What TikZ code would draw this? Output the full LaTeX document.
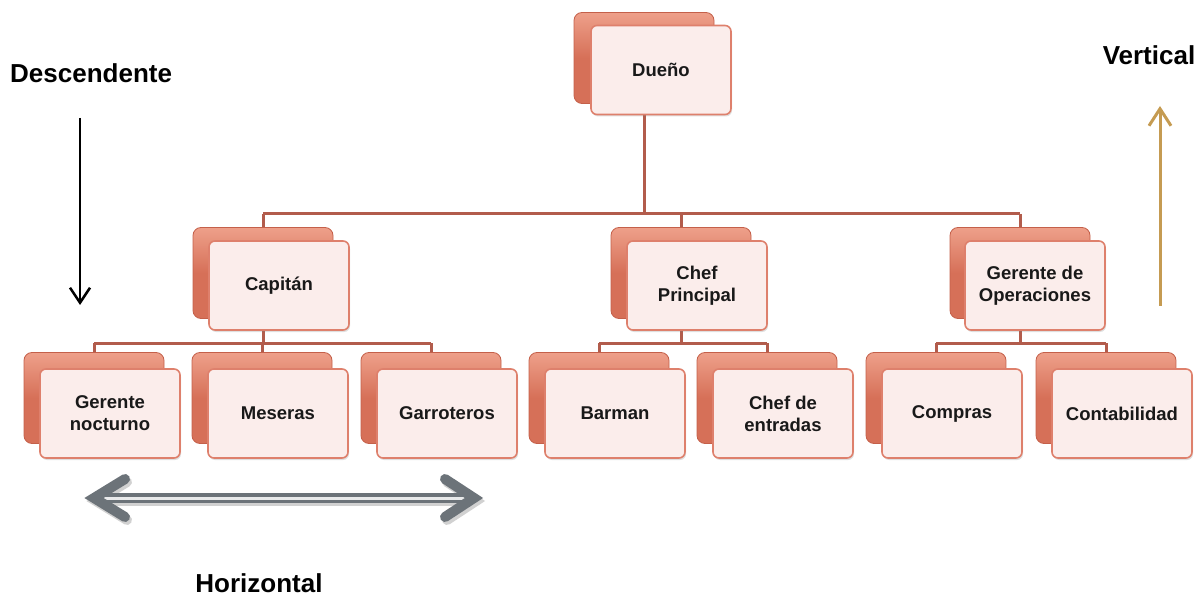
\documentclass[tikz,border=0pt]{standalone}
\usepackage{fontspec}
\setmainfont{Liberation Sans}
\usetikzlibrary{arrows.meta,shadows}
\pgfdeclarelayer{background}
\pgfsetlayers{background,main}
\definecolor{backfill}{RGB}{214,112,88}
\definecolor{backtop}{RGB}{238,160,138}
\definecolor{backdraw}{RGB}{196,96,74}
\definecolor{frontfill}{RGB}{251,237,235}
\definecolor{frontdraw}{RGB}{222,128,108}
\definecolor{conncol}{RGB}{178,92,76}
\definecolor{goldcol}{RGB}{197,155,82}
\definecolor{graycol}{RGB}{108,115,121}
\tikzset{
  backbox/.style={rectangle, rounded corners=8pt, minimum width=140pt, minimum height=91pt,
    top color=backtop, bottom color=backfill, middle color=backfill, draw=backdraw, line width=0.8pt},
  frontbox/.style={rectangle, rounded corners=6pt, minimum width=140pt, minimum height=89pt,
    fill=frontfill, draw=frontdraw, line width=1.6pt, align=center,
    font=\fontsize{18.5}{22}\selectfont\bfseries, text=black!90,
    drop shadow={shadow xshift=1pt, shadow yshift=-2pt, opacity=0.25}},
  conn/.style={draw=conncol, line width=3pt},
  lbl/.style={font=\fontsize{26}{30}\selectfont\bfseries, inner sep=0pt}
}
\begin{document}
\begin{tikzpicture}[x=1pt,y=-1pt]
\useasboundingbox (0,0) rectangle (1203,596);
% boxes: back then front
\node[backbox] (duenoB) at (644,58) {};
\node[frontbox] (dueno) at (661,70) {Due\~no};
\node[backbox] (capB) at (263,273) {};
\node[frontbox] (cap) at (279,285.5) {Capit\'an};
\node[backbox] (chefB) at (681,273) {};
\node[frontbox] (chef) at (697,285.5) {Chef\\Principal};
\node[backbox] (gopB) at (1020,273) {};
\node[frontbox] (gop) at (1035,285.5) {Gerente de\\Operaciones};
\node[backbox] (gnB) at (94,398) {};
\node[frontbox] (gn) at (110,413.5) {Gerente\\nocturno};
\node[backbox] (mesB) at (262,398) {};
\node[frontbox] (mes) at (278,413.5) {Meseras};
\node[backbox] (garB) at (431,398) {};
\node[frontbox] (gar) at (447,413.5) {Garroteros};
\node[backbox] (barB) at (599,398) {};
\node[frontbox] (bar) at (615,413.5) {Barman};
\node[backbox] (ceB) at (767,398) {};
\node[frontbox] (ce) at (783,413.5) {Chef de\\entradas};
\node[backbox] (comB) at (936,398) {};
\node[frontbox] (com) at (952,413.5) {Compras};
\node[backbox] (conB) at (1106,398) {};
\node[frontbox] (con) at (1122,413.5) {Contabilidad};
% bar levels
\coordinate (lvlA) at (0,214);
\coordinate (lvlB) at (0,343);
\begin{pgfonlayer}{background}
\draw[conn] (duenoB.center) -- (duenoB.center |- lvlA);
\draw[conn] (capB.center |- lvlA) -- (gopB.center |- lvlA);
\draw[conn] (capB.center |- lvlA) -- (capB.center);
\draw[conn] (chefB.center |- lvlA) -- (chefB.center);
\draw[conn] (gopB.center |- lvlA) -- (gopB.center);
\draw[conn] (capB.center) -- (capB.center |- lvlB);
\draw[conn] (gnB.center |- lvlB) -- (garB.center |- lvlB);
\draw[conn] (gnB.center |- lvlB) -- (gnB.center);
\draw[conn] (mesB.center |- lvlB) -- (mesB.center);
\draw[conn] (garB.center |- lvlB) -- (garB.center);
\draw[conn] (chefB.center) -- (chefB.center |- lvlB);
\draw[conn] (barB.center |- lvlB) -- (ceB.center |- lvlB);
\draw[conn] (barB.center |- lvlB) -- (barB.center);
\draw[conn] (ceB.center |- lvlB) -- (ceB.center);
\draw[conn] (gopB.center) -- (gopB.center |- lvlB);
\draw[conn] (comB.center |- lvlB) -- (conB.center |- lvlB);
\draw[conn] (comB.center |- lvlB) -- (comB.center);
\draw[conn] (conB.center |- lvlB) -- (conB.center);
\end{pgfonlayer}
% labels
\node[lbl, anchor=west] (desc) at (10,73) {Descendente};
\node[lbl] (vert) at (1149,55) {Vertical};
\node[lbl] (horiz) at (259,583) {Horizontal};
% descending arrow
\coordinate (dA) at (80,118);
\coordinate (dB) at (80,305);
\draw[line width=2.5pt, -{Straight Barb[length=15pt,width=20pt,line width=2.5pt]}] (dA) -- (dB);
% vertical arrow
\coordinate (vA) at (1160,306);
\coordinate (vB) at (1160,106);
\draw[goldcol, line width=3pt, -{Straight Barb[length=17pt,width=22pt,line width=3pt]}] (vA) -- (vB);
% horizontal double arrow
\coordinate (hL) at (94,498);
\coordinate (hR) at (474,498);
\begin{scope}[transform canvas={xshift=2pt,yshift=-3pt}]
\draw[black!18, line width=10pt] ([xshift=2pt]hL) -- ([xshift=-2pt]hR);
\draw[black!18, line width=10pt, line cap=round, line join=miter] (125,479) -- (hL) -- (125,517);
\draw[black!18, line width=10pt, line cap=round, line join=miter] (445,479) -- (hR) -- (445,517);
\end{scope}
\draw[graycol, line width=10pt] ([xshift=2pt]hL) -- ([xshift=-2pt]hR);
\draw[white!85!graycol, line width=3pt] ([xshift=8pt]hL) -- ([xshift=-8pt]hR);
\draw[graycol, line width=10pt, line cap=round, line join=miter] (125,479) -- (hL) -- (125,517);
\draw[graycol, line width=10pt, line cap=round, line join=miter] (445,479) -- (hR) -- (445,517);
\end{tikzpicture}
\end{document}
